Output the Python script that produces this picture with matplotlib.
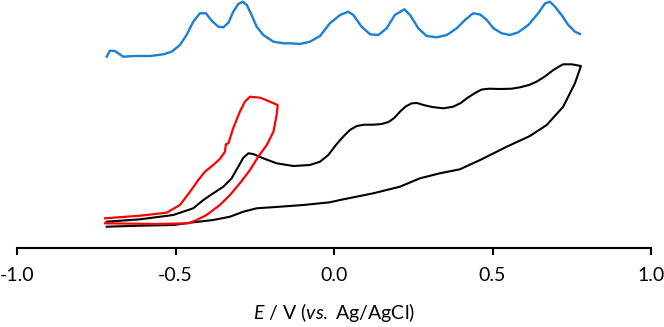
import matplotlib
matplotlib.use('Agg')
from matplotlib import pyplot as plt

plt.rcParams['font.family'] = ['Lato', 'DejaVu Sans']
plt.rcParams['mathtext.fontset'] = 'custom'
plt.rcParams['mathtext.rm'] = 'Lato'
plt.rcParams['mathtext.it'] = 'Lato:italic'

# DPV trace (offset upward, arbitrary units)
dpv_E = [-0.717, -0.707, -0.691, -0.665, -0.633, -0.58, -0.538, -0.512, -0.486,
         -0.465, -0.444, -0.423, -0.404, -0.386, -0.365, -0.349, -0.333, -0.318,
         -0.302, -0.288, -0.275, -0.26, -0.244, -0.223, -0.191, -0.16, -0.139,
         -0.107, -0.076, -0.044, -0.013, 0.019, 0.045, 0.061, 0.087, 0.114,
         0.14, 0.166, 0.192, 0.222, 0.24, 0.266, 0.292, 0.324, 0.356, 0.387,
         0.413, 0.439, 0.461, 0.482, 0.503, 0.529, 0.555, 0.581, 0.613, 0.644,
         0.666, 0.681, 0.697, 0.718, 0.739, 0.76, 0.776]
dpv_I = [191.3, 197.3, 197.0, 191.3, 192.0, 192.0, 193.7, 196.3, 203.0,
         213.0, 226.3, 234.7, 234.7, 227.3, 221.3, 220.7, 225.3, 236.3,
         244.0, 246.3, 243.0, 233.0, 221.3, 213.0, 206.3, 204.7, 204.7,
         204.0, 206.3, 212.0, 224.7, 233.0, 236.3, 233.0, 221.3, 213.7,
         213.0, 219.7, 233.0, 238.7, 233.0, 219.7, 212.0, 210.7, 213.0, 219.7,
         228.0, 234.7, 233.5, 228.0, 219.7, 214.7, 213.0, 215.7, 223.0, 234.7,
         244.7, 246.3, 241.3, 233.0, 223.0, 216.3, 214.0]

# CV, wide window (black)
cv_E = [-0.717, -0.612, -0.507, -0.444, -0.412, -0.381, -0.349, -0.323, -0.302,
        -0.286, -0.27, -0.255, -0.223, -0.181, -0.128, -0.076, -0.044, -0.018,
        0.006, 0.029, 0.05, 0.072, 0.095, 0.125, 0.15, 0.172, 0.19, 0.208,
        0.226, 0.245, 0.262, 0.282, 0.31, 0.345, 0.376, 0.4, 0.419, 0.445,
        0.466, 0.49, 0.524, 0.56, 0.587, 0.615, 0.639, 0.665, 0.692, 0.71,
        0.723, 0.75, 0.779,
        0.76, 0.723, 0.671, 0.618, 0.545, 0.461, 0.397, 0.334, 0.271, 0.208,
        0.124, 0.019, -0.013, -0.097, -0.17, -0.244, -0.286, -0.328, -0.381,
        -0.444, -0.507, -0.612, -0.717]
cv_I = [26.3, 28.7, 33.0, 39.7, 48.0, 54.7, 61.3, 69.7, 81.3,
        90.3, 94.7, 94.0, 89.7, 84.7, 82.0, 83.0, 86.3, 93.0,
        103.0, 111.3, 118.0, 122.0, 123.3, 123.3, 124.0, 126.0, 130.0, 136.3,
        141.5, 144.7, 145.0, 143.0, 141.0, 139.7, 141.3, 145.0, 149.7, 155.0,
        158.5, 159.3, 159.0, 159.3, 160.7, 163.0, 166.3, 171.5, 178.0, 181.5,
        183.7, 183.7, 182.0,
        164.7, 141.3, 123.0, 112.0, 101.3, 88.0, 78.7, 74.7, 69.7, 61.3,
        54.7, 48.0, 45.7, 43.0, 41.3, 39.7, 36.3, 31.3, 28.0,
        25.7, 23.0, 22.3, 21.3]

# CV, narrow window (red)
cv2_E = [-0.722, -0.612, -0.528, -0.486, -0.454, -0.428, -0.407, -0.381, -0.36,
         -0.344, -0.341, -0.333, -0.318, -0.297, -0.281, -0.265, -0.233, -0.207,
         -0.178, -0.178,
         -0.181, -0.191, -0.212, -0.239, -0.265, -0.297, -0.328, -0.36, -0.402,
         -0.433, -0.46, -0.559, -0.722]
cv2_I = [29.7, 32.3, 35.3, 43.0, 56.3, 68.0, 76.3, 83.0, 89.0,
         96.3, 103.7, 104.7, 119.7, 136.3, 146.3, 151.3, 150.3, 147.0,
         143.0, 141.3,
         133.0, 116.3, 103.0, 91.3, 78.0, 64.7, 53.0, 43.0, 33.0,
         28.0, 24.7, 24.0, 24.7]

fig = plt.figure(figsize=(6.64, 3.27), dpi=100)
ax = fig.add_axes([17 / 664, 79 / 327, 634 / 664, 248 / 327])

ax.plot(dpv_E, dpv_I, c='#1b7fd4', lw=1.7, solid_joinstyle='round')
ax.plot(cv_E, cv_I, c='black', lw=1.5, solid_joinstyle='round')
ax.plot(cv2_E, cv2_I, c='#ff0000', lw=1.6, solid_joinstyle='round')

ax.set_xlim(-1.0, 1.0)
ax.set_ylim(0, 248)
ax.set_xticks([-1.0, -0.5, 0.0, 0.5, 1.0])
ax.set_xticklabels(['-1.0', '-0.5', '0.0', '0.5', '1.0'])
ax.set_yticks([])
for s in ['top', 'right', 'left']:
    ax.spines[s].set_visible(False)
ax.spines['bottom'].set_linewidth(1.5)
ax.tick_params(axis='x', direction='out', length=5, width=1.5, labelsize=14, pad=9)
ax.set_xlabel(r'$\mathit{E}$ / V ($\mathit{vs.}$ Ag/AgCl)', fontsize=14, labelpad=12)

fig.savefig('out.png', dpi=100)
